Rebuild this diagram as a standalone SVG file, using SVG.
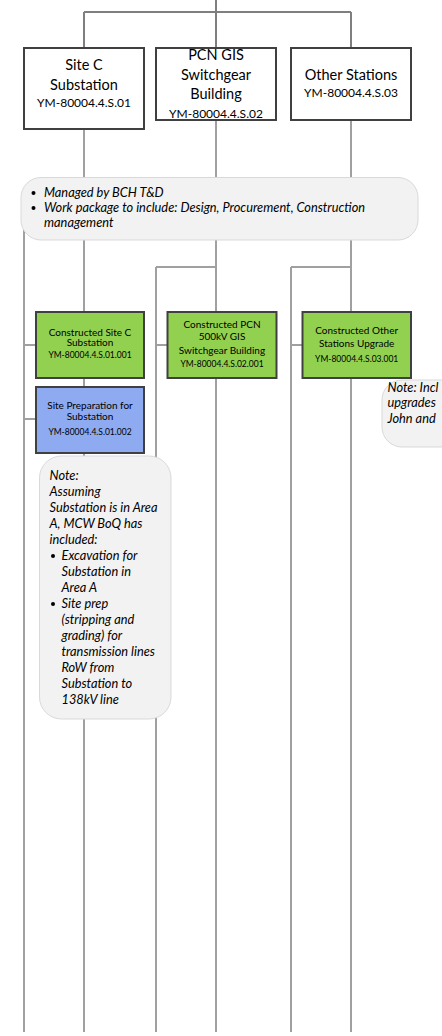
<svg xmlns="http://www.w3.org/2000/svg" width="442" height="1036" viewBox="0 0 442 1036">
<style>
.top{stroke:#7f7f7f;stroke-width:2;fill:none}
.ln{stroke:#a0a0a0;stroke-width:2;fill:none}
.hdr{fill:#fff;stroke:#404040;stroke-width:2}
.grn{fill:#92d050;stroke:#404040;stroke-width:2}
.blu{fill:#8eaaf0;stroke:#404040;stroke-width:2}
.note{fill:#f2f2f2;stroke:#d9d9d9;stroke-width:1}
text{font-family:Lato,"Liberation Sans",sans-serif;fill:#000}
.h{font-size:14.5px;text-anchor:middle}
.hc{font-size:12px;text-anchor:middle}
.g{font-size:10px;text-anchor:middle}
.gc{font-size:8.5px;text-anchor:middle}
.n{font-size:12.8px;font-style:italic}
</style>
<rect width="442" height="1036" fill="#fff"/>
<g id="connectors">
<path class="top" d="M216,0V12M84,12H351M84,12V48M216,12V48M351,12V48"/>
<path class="ln" d="M84,129V1032M216,120V1032M351,120V1032"/>
<path class="ln" d="M24,230V1032M24,345H36M24,419H36"/>
<path class="ln" d="M156,267H216M156,267V1032M156,345H167"/>
<path class="ln" d="M291,267H351M291,267V1032M291,345H302"/>
</g>
<g id="site-c">
<rect class="hdr" x="24" y="48" width="120" height="81"/>
<text class="h" x="84" y="70">Site C</text>
<text class="h" x="84" y="90">Substation</text>
<text class="hc" x="84" y="107">YM-80004.4.S.01</text>
</g>
<g id="pcn">
<rect class="hdr" x="156" y="48" width="120" height="72"/>
<text class="h" x="216" y="60">PCN GIS</text>
<text class="h" x="216" y="80">Switchgear</text>
<text class="h" x="216" y="99">Building</text>
<text class="hc" x="216" y="118">YM-80004.4.S.02</text>
</g>
<g id="other">
<rect class="hdr" x="291" y="48" width="120" height="72"/>
<text class="h" x="351" y="80">Other Stations</text>
<text class="hc" x="351" y="97">YM-80004.4.S.03</text>
</g>
<g id="note1">
<rect class="note" x="21" y="177.5" width="397" height="62.5" rx="20"/>
<circle cx="33.5" cy="193" r="2"/>
<circle cx="33.5" cy="208" r="2"/>
<text class="n" x="44" y="197">Managed by BCH T&amp;D</text>
<text class="n" x="44" y="212">Work package to include: Design, Procurement, Construction</text>
<text class="n" x="44" y="227">management</text>
</g>
<g id="c-sitec">
<rect class="grn" x="36" y="312" width="108" height="66"/>
<text class="g" x="90" y="336">Constructed Site C</text>
<text class="g" x="90" y="346">Substation</text>
<text class="gc" x="90" y="358">YM-80004.4.S.01.001</text>
</g>
<g id="c-pcn">
<rect class="grn" x="167.5" y="312" width="109" height="66"/>
<text class="g" x="222" y="327.5">Constructed PCN</text>
<text class="g" x="222" y="340">500kV GIS</text>
<text class="g" x="222" y="353.5">Switchgear Building</text>
<text class="gc" x="222" y="367">YM-80004.4.S.02.001</text>
</g>
<g id="c-other">
<rect class="grn" x="302.5" y="312" width="108.5" height="66"/>
<text class="g" x="356.7" y="334">Constructed Other</text>
<text class="g" x="356.7" y="347">Stations Upgrade</text>
<text class="gc" x="356.7" y="362">YM-80004.4.S.03.001</text>
</g>
<g id="site-prep">
<rect class="blu" x="36" y="387" width="108" height="66"/>
<text class="g" x="90" y="409">Site Preparation for</text>
<text class="g" x="90" y="419.5">Substation</text>
<text class="gc" x="90" y="434.5">YM-80004.4.S.01.002</text>
</g>
<g id="note2">
<rect class="note" x="39.5" y="456" width="131.5" height="263" rx="22"/>
<text class="n" x="49.5" y="480">Note:</text>
<text class="n" x="49.5" y="496">Assuming</text>
<text class="n" x="49.5" y="512">Substation is in Area</text>
<text class="n" x="49.5" y="528">A, MCW BoQ has</text>
<text class="n" x="49.5" y="544">included:</text>
<circle cx="53" cy="556" r="2"/>
<text class="n" x="61.5" y="560">Excavation for</text>
<text class="n" x="61.5" y="576">Substation in</text>
<text class="n" x="61.5" y="592">Area A</text>
<circle cx="53" cy="604" r="2"/>
<text class="n" x="61.5" y="608">Site prep</text>
<text class="n" x="61.5" y="624">(stripping and</text>
<text class="n" x="61.5" y="640">grading) for</text>
<text class="n" x="61.5" y="656">transmission lines</text>
<text class="n" x="61.5" y="672">RoW from</text>
<text class="n" x="61.5" y="688">Substation to</text>
<text class="n" x="61.5" y="704">138kV line</text>
</g>
<g id="note3">
<rect class="note" x="382" y="380" width="80" height="67" rx="20"/>
<text class="n" x="387.5" y="392">Note: Incl</text>
<text class="n" x="387.5" y="407">upgrades</text>
<text class="n" x="387.5" y="423">John and</text>
</g>
</svg>
